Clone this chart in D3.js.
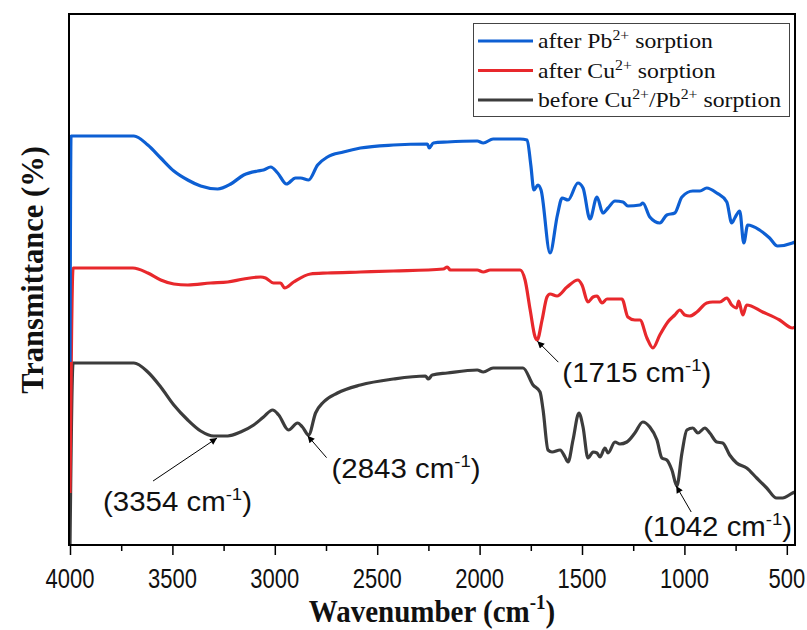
<!DOCTYPE html>
<html>
<head>
<meta charset="utf-8">
<script src="https://cdn.jsdelivr.net/npm/d3@7"></script>
<style>
  html, body { margin: 0; padding: 0; background: #fff; }
  svg { display: block; }
</style>
</head>
<body>
<svg id="chart" width="807" height="630"></svg>
<script>
// FTIR spectra, values (transmittance, arbitrary offset units)
const pbWavenumber = [4000, 3995, 3688, 3620, 3557, 3493, 3425, 3362, 3279, 3215, 3152, 3084, 3055, 3020, 2986, 2943, 2899, 2874, 2835, 2791, 2743, 2665, 2582, 2421, 2255, 2246, 2226, 2158, 2012, 1982, 1934, 1802, 1768, 1750, 1735, 1715, 1700, 1656, 1620, 1597, 1568, 1520, 1495, 1461, 1427, 1398, 1373, 1339, 1300, 1276, 1217, 1203, 1169, 1120, 1086, 1047, 1012, 959, 924, 891, 842, 793, 769, 754, 730, 710, 691, 633, 584, 545, 472, 460];
const pbTransmittance = [36.6, 81.8, 81.8, 80.0, 77.4, 74.8, 73.0, 71.8, 71.2, 72.2, 74.0, 74.8, 75.0, 75.6, 74.4, 72.2, 73.4, 73.4, 73.0, 76.0, 77.6, 78.6, 79.4, 80.0, 80.2, 79.4, 80.4, 80.6, 80.8, 80.4, 81.2, 81.2, 81.0, 76.0, 71.0, 72.0, 71.0, 58.4, 66.0, 69.4, 69.0, 72.4, 71.4, 65.2, 69.6, 66.4, 67.4, 68.8, 68.6, 67.8, 68.0, 68.4, 65.6, 64.4, 66.0, 66.4, 69.6, 70.8, 70.8, 71.4, 70.4, 68.6, 64.4, 65.4, 66.8, 60.4, 64.0, 63.0, 61.4, 59.8, 60.4, 60.6];

const cuWavenumber = [4000, 3985, 3693, 3620, 3557, 3493, 3425, 3313, 3230, 3152, 3069, 3045, 3006, 2972, 2952, 2908, 2826, 2743, 2582, 2421, 2177, 2158, 2143, 2012, 1982, 1948, 1836, 1802, 1778, 1753, 1729, 1719, 1695, 1671, 1656, 1622, 1573, 1520, 1500, 1471, 1446, 1427, 1402, 1378, 1305, 1276, 1242, 1217, 1183, 1154, 1120, 1081, 1047, 1022, 998, 974, 939, 891, 862, 827, 793, 769, 745, 735, 715, 696, 618, 535, 472, 460];
const cuTransmittance = [10.4, 55.4, 55.4, 54.4, 53.0, 52.2, 52.0, 52.4, 52.6, 53.2, 53.6, 53.4, 52.4, 52.4, 51.4, 52.6, 54.2, 54.4, 54.6, 54.8, 55.2, 55.6, 55.0, 55.0, 54.6, 55.0, 55.0, 55.0, 53.0, 47.0, 41.6, 41.0, 45.0, 49.6, 50.2, 49.8, 51.6, 53.0, 52.0, 48.6, 49.6, 49.8, 48.4, 49.2, 49.2, 45.6, 45.0, 45.0, 41.4, 39.4, 42.0, 44.6, 46.0, 47.0, 46.0, 45.8, 46.6, 48.4, 48.6, 48.6, 49.4, 48.0, 47.4, 48.8, 46.0, 48.0, 46.6, 45.0, 43.4, 43.6];

const rawWavenumber = [4000, 3985, 3688, 3620, 3557, 3493, 3425, 3362, 3298, 3230, 3167, 3103, 3055, 3011, 2981, 2933, 2889, 2865, 2835, 2801, 2762, 2694, 2582, 2421, 2265, 2250, 2231, 2158, 2012, 1982, 1934, 1802, 1788, 1739, 1705, 1690, 1666, 1646, 1607, 1583, 1568, 1544, 1515, 1495, 1471, 1446, 1427, 1412, 1388, 1373, 1339, 1315, 1281, 1242, 1203, 1169, 1134, 1110, 1086, 1061, 1037, 1012, 988, 959, 934, 900, 876, 842, 813, 779, 745, 696, 647, 598, 550, 520, 472, 460];
const rawTransmittance = [0, 36.4, 36.4, 34.6, 31.6, 28.0, 25.0, 22.8, 21.8, 21.8, 22.6, 24.0, 25.6, 27.0, 26.0, 23.0, 24.4, 23.6, 22.0, 26.4, 28.6, 30.4, 32.0, 33.2, 33.8, 33.2, 34.0, 34.4, 35.0, 34.6, 35.4, 35.4, 35.4, 32.0, 30.6, 27.0, 19.0, 18.6, 19.0, 17.6, 16.6, 21.0, 26.4, 23.6, 17.4, 18.6, 18.4, 17.6, 19.4, 18.4, 20.6, 20.2, 20.6, 22.4, 24.6, 23.6, 21.0, 17.4, 17.0, 15.0, 11.8, 18.4, 23.0, 23.4, 22.4, 23.4, 22.4, 20.6, 20.4, 18.0, 16.4, 15.4, 13.4, 11.4, 9.4, 9.4, 10.4, 10.6];

const xTicks = [4000, 3500, 3000, 2500, 2000, 1500, 1000, 500];
const xMinorTicks = [3750, 3250, 2750, 2250, 1750, 1250, 750];

const seriesNames = ["before", "cu", "pb"];
const seriesColors = { pb: "#0d5fd3", cu: "#e8282c", before: "#3c3c3c" };
const seriesData = {
  pb: pbWavenumber.map((w, i) => ({ w, t: pbTransmittance[i] })),
  cu: cuWavenumber.map((w, i) => ({ w, t: cuTransmittance[i] })),
  before: rawWavenumber.map((w, i) => ({ w, t: rawTransmittance[i] }))
};

const legendItems = [
  { key: "pb", parts: [["after Pb", 0], ["2+", 1], [" sorption", 0]] },
  { key: "cu", parts: [["after Cu", 0], ["2+", 1], [" sorption", 0]] },
  { key: "before", parts: [["before Cu", 0], ["2+", 1], ["/Pb", 0], ["2+", 1], [" sorption", 0]] }
];

// peak labels
const peakLabels = ["3354", "2843", "1715", "1042"];
const peakSeries = ["before", "before", "cu", "before"];
const peakAt = [3282, 2840, 1718, 1040];

const svg = d3.select("#chart");
const mLeft = 69, mRight = 795, mTop = 14, mBottom = 545;
const sans = "'Liberation Sans', Arial, sans-serif";
const serif = "'Liberation Serif', 'Times New Roman', serif";

const x = d3.scaleLinear().domain([4000, 460]).range([mLeft + 1, mRight]);
const y = d3.scaleLinear().domain([0, 106.2]).range([mBottom, mTop]);

const defs = svg.append("defs");
defs.append("clipPath").attr("id", "plotclip")
  .append("rect").attr("x", mLeft).attr("y", mTop).attr("width", mRight - mLeft).attr("height", mBottom - mTop);

defs.append("marker")
  .attr("id", "arrow").attr("viewBox", "0 0 10 10")
  .attr("refX", 10).attr("refY", 5)
  .attr("markerWidth", 10).attr("markerHeight", 7)
  .attr("markerUnits", "userSpaceOnUse")
  .attr("orient", "auto")
  .append("path").attr("d", "M0,0 L10,5 L0,10 Z").attr("fill", "#000");

const line = d3.line().x(d => x(d.w)).y(d => y(d.t)).curve(d3.curveMonotoneX);

const plot = svg.append("g").attr("clip-path", "url(#plotclip)");
seriesNames.forEach(k => {
  plot.append("path")
    .datum(seriesData[k])
    .attr("d", line)
    .attr("fill", "none")
    .attr("stroke", seriesColors[k])
    .attr("stroke-width", 3.2)
    .attr("stroke-linejoin", "round");
});

// frame
svg.append("rect")
  .attr("x", mLeft).attr("y", mTop)
  .attr("width", mRight - mLeft).attr("height", mBottom - mTop)
  .attr("fill", "none").attr("stroke", "#000").attr("stroke-width", 2);

// x axis ticks (labels drawn separately, the original text is tall and narrow)
const gx = svg.append("g").attr("transform", `translate(0,${mBottom})`)
  .call(d3.axisBottom(x).tickValues(xTicks).tickSize(10).tickFormat(""));
gx.select(".domain").remove();
gx.selectAll(".tick line").attr("stroke", "#000").attr("stroke-width", 1.5);

const gxm = svg.append("g").attr("transform", `translate(0,${mBottom})`)
  .call(d3.axisBottom(x).tickValues(xMinorTicks).tickSize(6).tickFormat(""));
gxm.select(".domain").remove();
gxm.selectAll(".tick line").attr("stroke", "#000").attr("stroke-width", 1.5);

svg.append("g").selectAll("text")
  .data(xTicks)
  .join("text")
  .attr("transform", d => `translate(${x(d)},588) scale(1,1.22)`)
  .attr("text-anchor", "middle")
  .attr("font-family", sans).attr("font-size", 22).attr("fill", "#111")
  .text(d => d3.format("d")(d));

// axis titles
const xt = svg.append("text")
  .attr("transform", `translate(${(mLeft + mRight) / 2},622) scale(1,1.08)`)
  .attr("text-anchor", "middle")
  .attr("font-family", serif)
  .attr("font-weight", "bold").attr("font-size", 29).attr("fill", "#111");
xt.append("tspan").text("Wavenumber (cm");
xt.append("tspan").attr("dy", -12).attr("font-size", 19).text("-1");
xt.append("tspan").attr("dy", 12).text(")");

svg.append("text")
  .attr("transform", `translate(43,270) rotate(-90)`)
  .attr("text-anchor", "middle")
  .attr("font-family", serif)
  .attr("font-weight", "bold").attr("font-size", 30.5).attr("fill", "#111")
  .text("Transmittance (%)");

// legend
const lg = svg.append("g");
lg.append("rect").attr("x", 473.5).attr("y", 23.5).attr("width", 316).attr("height", 93)
  .attr("fill", "#fff").attr("stroke", "#444").attr("stroke-width", 1);
legendItems.forEach((it, i) => {
  const ly = 41 + i * 29.5;
  lg.append("line").attr("x1", 478).attr("x2", 533).attr("y1", ly).attr("y2", ly)
    .attr("stroke", seriesColors[it.key]).attr("stroke-width", 3.2);
  const t = lg.append("text")
    .attr("transform", `translate(538,${ly + 7}) scale(1.13,1)`)
    .attr("font-family", serif)
    .attr("font-size", 21).attr("fill", "#111");
  let shifted = false;
  it.parts.forEach(([s, sup]) => {
    const ts = t.append("tspan").text(s);
    if (sup && !shifted) { ts.attr("dy", -8).attr("font-size", 14); shifted = true; }
    else if (sup) { ts.attr("font-size", 14); }
    else if (shifted) { ts.attr("dy", 8); shifted = false; }
  });
});

// peak annotations
const offsets = [
  { tail: [-64, 43], text: [-114, 73] },
  { tail: [19, 22], text: [24, 42] },
  { tail: [21, 21], text: [25, 41] },
  { tail: [15, 26], text: [-33, 50] }
];
peakLabels.forEach((lab, i) => {
  const pts = seriesData[peakSeries[i]];
  const idx = d3.bisector(d => -d.w).left(pts, -peakAt[i]);
  const a = pts[Math.max(idx - 1, 0)], b = pts[Math.min(idx, pts.length - 1)];
  const f = a.w === b.w ? 0 : (a.w - peakAt[i]) / (a.w - b.w);
  const tx = x(peakAt[i]);
  const ty = y(a.t + (b.t - a.t) * f) + 2;
  const o = offsets[i];
  svg.append("line")
    .attr("x1", tx + o.tail[0]).attr("y1", ty + o.tail[1])
    .attr("x2", tx).attr("y2", ty)
    .attr("stroke", "#000").attr("stroke-width", 1)
    .attr("marker-end", "url(#arrow)");
  const t = svg.append("text")
    .attr("transform", `translate(${tx + o.text[0]},${ty + o.text[1]}) scale(1.09,1)`)
    .attr("font-family", sans)
    .attr("font-size", 27).attr("fill", "#111");
  t.append("tspan").text(`(${lab} cm`);
  t.append("tspan").attr("dy", -11).attr("font-size", 17).text("-1");
  t.append("tspan").attr("dy", 11).text(")");
});
</script>
</body>
</html>
